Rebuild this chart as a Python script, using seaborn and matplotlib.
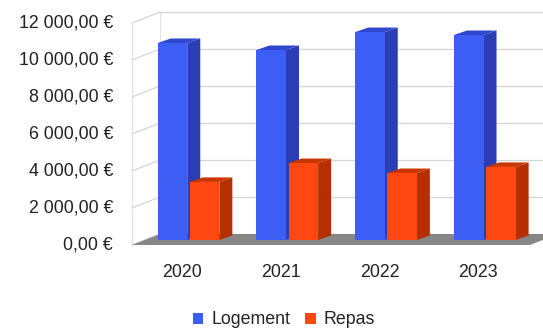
import numpy as np
import pandas as pd
import seaborn as sns
import matplotlib
matplotlib.use("Agg")
import matplotlib.pyplot as plt
import matplotlib.transforms as mtransforms
from matplotlib.patches import Polygon, Patch

# ---- data -------------------------------------------------------------
years = ["2020", "2021", "2022", "2023"]
logement = [10650, 10270, 11240, 11080]
repas = [3140, 4160, 3620, 3950]
series = ["Logement", "Repas"]
y_ticks = [0, 2000, 4000, 6000, 8000, 10000, 12000]
y_tick_labels = ["0,00 €", "2 000,00 €", "4 000,00 €", "6 000,00 €",
                 "8 000,00 €", "10 000,00 €", "12 000,00 €"]

front_colors = {"Logement": "#3d5ef5", "Repas": "#ff4710"}
side_colors = {"Logement": "#2a3db3", "Repas": "#b52f00"}
top_colors = {"Logement": "#2f47cc", "Repas": "#c93600"}

df = pd.DataFrame({
    "Année": years * 2,
    "Montant": logement + repas,
    "Poste": [series[0]] * len(years) + [series[1]] * len(years),
})

# ---- figure ------------------------------------------------------------
W, H = 543, 329
sns.set_theme(style="white")
plt.rcParams["font.family"] = ["Liberation Sans", "DejaVu Sans"]
fig = plt.figure(figsize=(W / 100, H / 100), dpi=100)

# axes = plane of the bars' front faces (pixel layout)
left_px, zero_px, top_px, width_px = 144.6, 240, 18, 398
ax = fig.add_axes([left_px / W, (H - zero_px) / H, width_px / W,
                   (zero_px - top_px) / H])

# ---- bars ------------------------------------------------------------
sns.barplot(data=df, x="Année", y="Montant", hue="Poste", order=years,
            hue_order=series, palette=front_colors, width=0.65, gap=0.08,
            saturation=1, edgecolor="none", legend=False, ax=ax, zorder=3)

ax.set_xlim(-0.445, -0.445 + width_px / 98.75)
ax.set_ylim(0, 12000)
ax.patch.set_visible(False)
for s in ax.spines.values():
    s.set_visible(False)

# pixel offsets (display coords, y up) of the box planes relative to the bars
FRONT = (-12.6, -5.0)
BACK = (15.4, 6.0)
DEPTH = (13.0, 4.5)


def px(x, y, off=(0, 0)):
    X, Y = ax.transData.transform((x, y))
    return (X + off[0], Y + off[1])


xl0, xl1 = ax.get_xlim()
ident = mtransforms.IdentityTransform()

# back wall
bw = [px(xl0, 0, BACK), px(xl1, 0, BACK), px(xl1, 12000, BACK), px(xl0, 12000, BACK)]
fig.add_artist(Polygon(bw, closed=True, facecolor="white", edgecolor="none",
                       transform=ident, zorder=0))
# left wall
lw = [px(xl0, 0, FRONT), px(xl0, 0, BACK), px(xl0, 12000, BACK), px(xl0, 12000, FRONT)]
fig.add_artist(Polygon(lw, closed=True, facecolor="white", edgecolor="none",
                       transform=ident, zorder=0))
grid_c = "#d4d4d4"
for v in y_ticks:
    a, b = px(xl0, v, BACK), px(xl1, v, BACK)
    fig.add_artist(plt.Line2D([a[0], b[0]], [a[1], b[1]], color=grid_c, lw=0.9,
                              transform=ident, zorder=0.5))
    c = px(xl0, v, FRONT)
    fig.add_artist(plt.Line2D([c[0], a[0]], [c[1], a[1]], color=grid_c, lw=0.9,
                              transform=ident, zorder=0.5))
# back wall left edge and left wall front edge
for off in (BACK, FRONT):
    a, b = px(xl0, 0, off), px(xl0, 12000, off)
    fig.add_artist(plt.Line2D([a[0], b[0]], [a[1], b[1]], color="#e2e2e2", lw=0.9,
                              transform=ident, zorder=0.5))

# floor
fl = [px(xl0, 0, FRONT), px(xl1, 0, FRONT), px(xl1, 0, BACK), px(xl0, 0, BACK)]
fig.add_artist(Polygon(fl, closed=True, facecolor="#878787", edgecolor="none",
                       transform=ident, zorder=0.8))

# 3D extrusion (side + top) built from each bar patch
for container, name in zip(ax.containers, series):
    for bar in container:
        x0, y0 = bar.get_x(), bar.get_y()
        x1, y1 = x0 + bar.get_width(), y0 + bar.get_height()
        side = [px(x1, y0), px(x1, y0, DEPTH), px(x1, y1, DEPTH), px(x1, y1)]
        top = [px(x0, y1), px(x1, y1), px(x1, y1, DEPTH), px(x0, y1, DEPTH)]
        fig.add_artist(Polygon(side, closed=True, facecolor=side_colors[name],
                               edgecolor="none", transform=ident, zorder=2))
        fig.add_artist(Polygon(top, closed=True, facecolor=top_colors[name],
                               edgecolor="none", transform=ident, zorder=2))

# draw bars above the extrusions
ax.set_zorder(5)

# ---- axes text ---------------------------------------------------------
ax.set_yticks(y_ticks, y_tick_labels)
ax.set_xticks(np.arange(len(years)) - 0.066, years)
ax.tick_params(axis="y", length=0, pad=22.7, labelsize=12.8, labelcolor="#222222")
ax.tick_params(axis="x", length=0, pad=17, labelsize=12.8, labelcolor="#222222")
for lab in ax.get_yticklabels():
    lab.set_transform(lab.get_transform() + mtransforms.Affine2D().translate(0, -3))
ax.set_xlabel("")
ax.set_ylabel("")

handles = [Patch(facecolor=front_colors[s], edgecolor="none", label=s) for s in series]
fig.legend(handles=handles, loc="center", bbox_to_anchor=(284 / W, 9 / H),
           ncol=2, frameon=False, fontsize=12.8, handlelength=0.6,
           handleheight=0.6, handletextpad=0.45, columnspacing=0.85,
           borderpad=0, labelcolor="#222222")

fig.savefig("out.png", dpi=100, facecolor="white")
